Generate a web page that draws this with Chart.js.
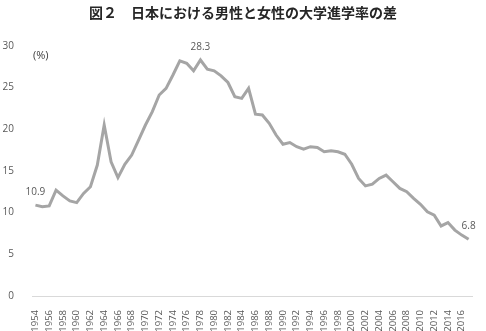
<!DOCTYPE html>
<html lang="ja">
<head>
    <meta charset="UTF-8">
    <title>図２ 日本における男性と女性の大学進学率の差</title>
    <script src="https://cdn.jsdelivr.net/npm/chart.js"></script>
    <style>
        html, body { margin: 0; padding: 0; background: #fff; }
        #wrap { width: 486px; height: 331px; position: relative; }
    </style>
</head>
<body>
    <div id="wrap"><canvas id="gapChart"></canvas></div>

    <script>
        // Data (gap in university entry rate, men minus women, %)
        const years = [];
        for (let y = 1954; y <= 2017; y++) years.push(String(y));

        const gapValues = [
            10.9, 10.7, 10.8, 12.7, 12.0, 11.4, 11.2, 12.3, 13.1, 15.7,
            20.5, 16.1, 14.2, 15.8, 16.9, 18.7, 20.5, 22.1, 24.1, 24.9,
            26.5, 28.2, 27.9, 27.0, 28.3, 27.2, 27.0, 26.4, 25.6, 23.9,
            23.7, 24.9, 21.8, 21.7, 20.7, 19.3, 18.2, 18.4, 17.9, 17.6,
            17.9, 17.8, 17.3, 17.4, 17.3, 17.0, 15.8, 14.1, 13.2, 13.4,
            14.1, 14.5, 13.7, 12.9, 12.5, 11.7, 11.0, 10.1, 9.7, 8.4,
            8.8, 7.9, 7.3, 6.8
        ];

        const labelledYears = ['1954', '1978', '2017'];
        const yTicks = [0, 5, 10, 15, 20, 25, 30];

        // small plugin: value labels above selected points + unit label
        const annotate = {
            id: 'annotate',
            afterDatasetsDraw(chart) {
                const ctx = chart.ctx;
                const meta = chart.getDatasetMeta(0);
                ctx.save();
                ctx.font = '10px "Open Sans", sans-serif';
                ctx.fillStyle = '#595959';
                ctx.textAlign = 'center';
                ctx.textBaseline = 'bottom';
                labelledYears.forEach(yr => {
                    const i = years.indexOf(yr);
                    const pt = meta.data[i];
                    ctx.fillText(gapValues[i].toFixed(1), pt.x, pt.y - 8);
                });
                ctx.font = '11px "Open Sans", sans-serif';
                ctx.fillStyle = '#404040';
                ctx.textAlign = 'left';
                ctx.textBaseline = 'middle';
                ctx.fillText('(%)', chart.chartArea.left + 1, chart.scales.y.getPixelForValue(28.8));
                ctx.restore();
            }
        };

        new Chart(document.getElementById('gapChart'), {
            type: 'line',
            data: {
                labels: years,
                datasets: [{
                    data: gapValues,
                    borderColor: '#a5a5a5',
                    borderWidth: 3,
                    pointRadius: 0,
                    tension: 0,
                    fill: false
                }]
            },
            options: {
                responsive: true,
                maintainAspectRatio: false,
                animation: false,
                layout: { padding: { left: 0, right: 0, top: 4, bottom: 0 } },
                plugins: {
                    legend: { display: false },
                    tooltip: { enabled: false },
                    title: {
                        display: true,
                        text: '図２　日本における男性と女性の大学進学率の差',
                        color: '#262626',
                        font: { family: '"Noto Sans CJK JP", sans-serif', size: 14, weight: 'bold' },
                        padding: { top: 0, bottom: 25 }
                    }
                },
                scales: {
                    x: {
                        offset: true,
                        afterFit: s => { s.height = 35; },
                        grid: { display: false },
                        border: { color: '#d9d9d9', width: 1 },
                        ticks: {
                            autoSkip: false,
                            maxRotation: 90,
                            minRotation: 90,
                            padding: 6,
                            color: '#595959',
                            font: { family: '"Open Sans", sans-serif', size: 9.5 },
                            callback: (v, i) => (Number(years[i]) % 2 === 0 ? years[i] : '')
                        }
                    },
                    y: {
                        min: 0,
                        max: 30,
                        afterBuildTicks: s => { s.ticks = yTicks.map(v => ({ value: v })); },
                        afterFit: s => { s.width = 32; },
                        grid: { display: false },
                        border: { display: false },
                        ticks: {
                            padding: 10,
                            color: '#595959',
                            font: { family: '"Open Sans", sans-serif', size: 10 }
                        }
                    }
                }
            },
            plugins: [annotate]
        });
    </script>
</body>
</html>
